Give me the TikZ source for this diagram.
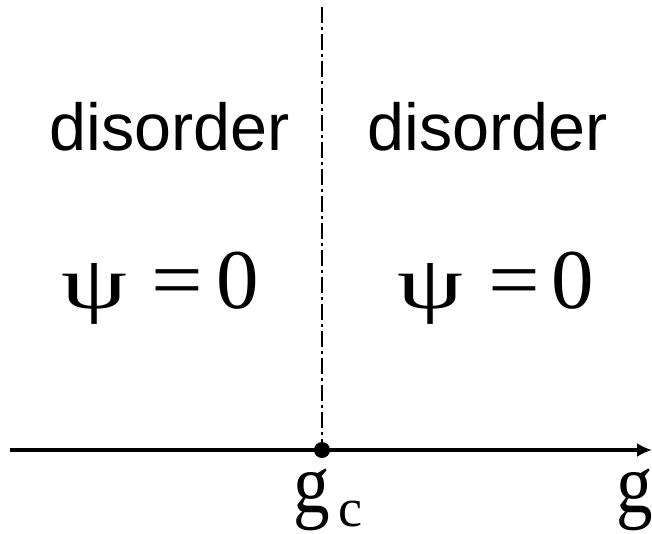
\documentclass[tikz,border=0pt]{standalone}
\usepackage{graphicx}
\usepackage{fontspec}
\setmainfont{Liberation Serif}
\newfontfamily\arialf{Liberation Sans}
\newcommand{\psieq}[2]{\makebox[60pt]{\scalebox{1.24}[0.88]{ψ}}\hspace{#1}\makebox[48pt]{\scalebox{1.08}[1]{=}}\hspace{#2}\makebox[42pt]{0}}
\usetikzlibrary{arrows.meta}
\begin{document}
\begin{tikzpicture}[x=1pt,y=-1pt,
  lbl/.style={font=\arialf\fontsize{66.5}{76}\selectfont, anchor=base, inner sep=0},
  eqn/.style={font=\fontsize{85}{95}\selectfont, anchor=base west, inner sep=0},
  axis/.style={line width=3.3pt, -{Latex[length=15pt,width=14pt]}},
  crit/.style={line width=2.8pt, dash pattern=on 16pt off 4pt on 3pt off 4pt}]
\useasboundingbox (0,0) rectangle (652,533);
\coordinate (start) at (10,450);
\coordinate (end) at (652,450);
\coordinate (top) at (322,7);
\node[circle, fill=black, inner sep=0, minimum size=16pt] (gc) at (322,450) {};
\draw[crit] (top) -- (gc.center);
\draw[axis] (start) -- (end);
\node[lbl] (dl) at (170,150) {disorder};
\node[lbl] (dr) at (488,150) {disorder};
\node[eqn] (el) at (64,308) {\psieq{29.5pt}{15.5pt}};
\node[eqn] (er) at (400,308) {\psieq{30pt}{13.5pt}};
\node[eqn] (gl) at (293,512) {\scalebox{0.86}[1]{g}\hspace{9pt}\raisebox{-14pt}{\fontsize{54}{60}\selectfont c}};
\node[eqn] (gr) at (616,512) {\scalebox{0.86}[1]{g}};
\end{tikzpicture}
\end{document}
